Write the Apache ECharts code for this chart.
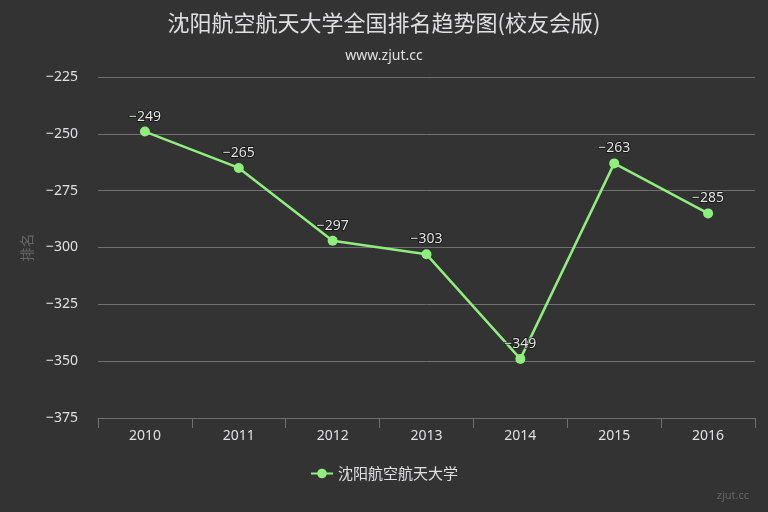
<!DOCTYPE html>
<html><head><meta charset="utf-8">
<script src="https://cdn.jsdelivr.net/npm/echarts@6/dist/echarts.min.js"></script>
<style>html,body{margin:0;padding:0;background:#333333;}#c{width:768px;height:512px;}</style>
</head><body><div id="c"></div>
<script>
const categories = ['2010','2011','2012','2013','2014','2015','2016'];
const ranks = [-249,-265,-297,-303,-349,-263,-285];
const seriesName = '沈阳航空航天大学';
const titleText = '沈阳航空航天大学全国排名趋势图(校友会版)';
const subtitleText = 'www.zjut.cc';
const yName = '排名';

const minus = v => String(v).replace('-', '\u2212');
const chart = echarts.init(document.getElementById('c'));
chart.setOption({
  backgroundColor: '#333333',
  title: [{
    text: titleText, subtext: subtitleText, left: 'center', top: 7, itemGap: 15,
    textStyle: {color: '#e0e0e3', fontSize: 22, fontWeight: 'normal', fontFamily: 'Noto Sans CJK SC'},
    subtextStyle: {color: '#e0e0e3', fontSize: 14, fontFamily: 'Noto Sans'}
  }, {
    text: 'zjut.cc', right: 14, bottom: 6,
    textStyle: {color: '#666666', fontSize: 11, fontWeight: 'normal', fontFamily: 'Noto Sans'}
  }],
  grid: {left: 98, right: 13, top: 77, bottom: 94},
  legend: {
    data: [seriesName], bottom: 26, left: 'center', itemWidth: 22, itemHeight: 12, itemGap: 6,
    textStyle: {color: '#e0e0e3', fontSize: 15, fontFamily: 'Noto Sans CJK SC'}
  },
  xAxis: {
    type: 'category', data: categories, boundaryGap: true,
    axisLine: {lineStyle: {color: '#707073'}},
    axisTick: {show: true, length: 10, lineStyle: {color: '#707073'}},
    axisLabel: {color: '#e0e0e3', fontSize: 14, margin: 11, fontFamily: 'Noto Sans'}
  },
  yAxis: {
    type: 'value', min: -375, max: -225, interval: 25,
    name: yName, nameLocation: 'middle', nameGap: 64, nameRotate: 90,
    nameTextStyle: {color: '#666666', fontSize: 14, fontFamily: 'Noto Sans CJK SC'},
    axisLine: {show: false}, axisTick: {show: false},
    axisLabel: {color: '#e0e0e3', fontSize: 14, margin: 20, fontFamily: 'Noto Sans', formatter: minus},
    splitLine: {lineStyle: {color: '#707073', width: 1}}
  },
  series: [{
    name: seriesName, type: 'line', data: ranks,
    symbol: 'circle', symbolSize: 10,
    lineStyle: {color: '#90ee7e', width: 2.5},
    itemStyle: {color: '#90ee7e'},
    label: {
      show: true, position: 'top', distance: 3,
      color: '#e8e8e8', fontSize: 14, fontWeight: 'normal', fontFamily: 'Noto Sans',
      textBorderColor: 'rgba(0,0,0,0.8)', textBorderWidth: 1.5,
      formatter: p => minus(p.value)
    }
  }]
});
</script></body></html>
